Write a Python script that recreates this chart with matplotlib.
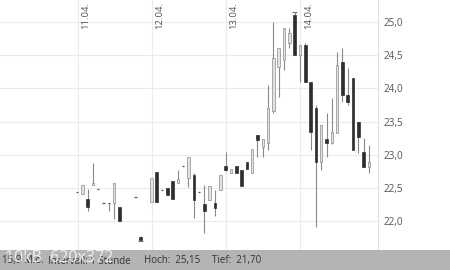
import numpy as np
import matplotlib
matplotlib.use("Agg")
import matplotlib.pyplot as plt

nan = np.nan

# Hourly candles, 14 per trading day (11.04. - 14.04.)
day_labels = ["11.04.", "12.04.", "13.04.", "14.04."]
candles_per_day = 14

opens = [
    22.45, 22.42, 22.34, 22.55, 22.49, 22.28, 22.28, 22.28, 22.22, nan, nan, 22.37, 21.77, nan,
    22.30, 22.75, 22.48, 22.51, 22.61, 22.58, 22.84, 22.66, 22.70, 22.45, 22.27, 22.33, 22.28, 22.48,
    22.84, 22.73, 22.84, 22.78, 22.90, 22.73, 23.30, 23.12, 23.18, 23.66, 24.32, 24.43, 24.68, 25.10,
    24.50, 24.65, 24.10, 23.71, 22.90, 23.24, 23.18, 23.33, 24.40, 23.90, 24.16, 23.50, 23.05, 22.82,
]
highs = [
    22.45, 22.55, 22.49, 22.88, 22.49, 22.28, 22.28, 22.58, 22.22, nan, nan, 22.37, 21.78, nan,
    22.66, 22.75, 22.48, 22.51, 22.61, 22.78, 22.84, 22.97, 22.73, 22.45, 22.55, 22.54, 22.48, 22.70,
    23.05, 22.79, 22.84, 22.78, 22.90, 23.09, 23.30, 23.24, 24.05, 25.00, 24.61, 24.91, 24.91, 25.15,
    24.65, 24.68, 24.10, 23.75, 23.45, 23.63, 23.86, 24.55, 24.61, 24.31, 24.16, 23.50, 23.26, 23.15,
]
lows = [
    22.45, 22.42, 22.16, 22.55, 22.49, 22.28, 22.16, 22.03, 22.00, nan, nan, 22.37, 21.70, nan,
    22.30, 22.30, 22.48, 22.40, 22.34, 22.58, 22.84, 22.52, 22.06, 22.45, 21.83, 22.33, 22.09, 22.48,
    22.76, 22.73, 22.73, 22.54, 22.79, 22.73, 22.97, 22.97, 23.08, 23.63, 23.87, 24.28, 24.61, 24.50,
    24.10, 24.10, 23.08, 21.92, 22.78, 22.97, 23.16, 23.33, 23.80, 23.75, 23.08, 23.03, 22.82, 22.73,
]
closes = [
    22.45, 22.55, 22.22, 22.58, 22.49, 22.28, 22.27, 22.58, 22.00, nan, nan, 22.37, 21.72, nan,
    22.66, 22.30, 22.48, 22.40, 22.34, 22.64, 22.84, 22.97, 22.33, 22.45, 22.16, 22.54, 22.21, 22.70,
    22.78, 22.79, 22.73, 22.54, 22.79, 23.09, 23.22, 23.24, 23.71, 24.46, 24.61, 24.91, 24.83, 24.50,
    24.65, 24.10, 23.35, 22.90, 23.45, 23.18, 23.35, 24.35, 23.90, 23.80, 23.08, 23.27, 22.82, 22.90,
]

price_ticks = [22.0, 22.5, 23.0, 23.5, 24.0, 24.5, 25.0]
high_value = 25.15
low_value = 21.70
footer_volume = "15,9 Mio."
footer_interval = "Intervall: 1 Stunde"

FONT = ["Open Sans", "DejaVu Sans"]

fig = plt.figure(figsize=(4.5, 2.7), dpi=100)
fig.patch.set_facecolor("white")
ax = fig.add_axes([0.0, 20 / 270, 378 / 450, 250 / 270])
ax.set_facecolor("white")

n = len(opens)
idx = np.arange(n)
o = np.array(opens); h = np.array(highs); l = np.array(lows); c = np.array(closes)

body_w = 0.48
wick_col = "#8a8a8a"
light_fill = "#e2e2e2"
light_edge = "#8c8c8c"
dark_fill = "#2e2e2e"

for i in idx:
    if np.isnan(o[i]):
        continue
    if h[i] > max(o[i], c[i]) or l[i] < min(o[i], c[i]):
        ax.vlines(i, l[i], h[i], color=wick_col, lw=0.8, zorder=2)
    if abs(c[i] - o[i]) < 0.015:
        ax.hlines(o[i], i - body_w / 2, i + body_w / 2, color="#555555", lw=0.9, zorder=3)
    elif c[i] > o[i]:
        ax.bar(i, c[i] - o[i], bottom=o[i], width=body_w, color=light_fill,
               edgecolor=light_edge, linewidth=0.5, zorder=3)
    else:
        ax.bar(i, o[i] - c[i], bottom=c[i], width=body_w, color=dark_fill,
               edgecolor=dark_fill, linewidth=0.5, zorder=3)

# high / low markers
hi_i = int(np.nanargmax(h)); lo_i = int(np.nanargmin(l))
ax.hlines(high_value, hi_i - 0.5, hi_i + 0.5, color="#777777", lw=0.8, zorder=4)
ax.hlines(low_value, lo_i - 0.5, lo_i + 0.5, color="#777777", lw=0.8, zorder=4)

ax.set_xlim(-14.5, 56.7)
ax.set_ylim(21.572, 25.326)

# grid
for t in price_ticks:
    ax.axhline(t, color="#ebebeb", lw=0.8, zorder=0)
for d in range(len(day_labels)):
    xpos = d * candles_per_day + 0.1
    ax.axvline(xpos, color="#ebebeb", lw=0.8, zorder=0)
    ax.text(xpos + 0.6, 25.29, day_labels[d], rotation=90, ha="left", va="top",
            fontsize=6.8, color="#555555", family=FONT, zorder=5)

ax.yaxis.tick_right()
ax.set_yticks(price_ticks)
ax.set_yticklabels([f"{t:.1f}".replace(".", ",") for t in price_ticks],
                   fontsize=7.2, color="#555555", family=FONT)
ax.tick_params(axis="y", length=0, pad=4)
ax.set_xticks([])
for side in ["top", "left", "bottom"]:
    ax.spines[side].set_visible(False)
ax.spines["right"].set_color("#e0e0e0")
ax.spines["right"].set_linewidth(0.8)

# footer bar
fig.patches.append(plt.Rectangle((0, 0), 1, 20 / 270, transform=fig.transFigure,
                                 facecolor="#b4b4b4", edgecolor="none", zorder=0))
fy = 9 / 270
fig.text(2 / 450, fy, footer_volume, fontsize=7, color="#333333", family=FONT, va="center")
fig.text(48 / 450, fy, footer_interval, fontsize=7, color="#333333", family=FONT, va="center")
fig.text(144 / 450, fy, "Hoch:  " + f"{high_value:.2f}".replace(".", ","), fontsize=7,
         color="#333333", family=FONT, va="center")
fig.text(212 / 450, fy, "Tief:  " + f"{low_value:.2f}".replace(".", ","), fontsize=7,
         color="#333333", family=FONT, va="center")

# thumbnail watermark (overlaps the footer, as in the reference image)
fig.text(5 / 450, 12 / 270, "10kB  620x372", fontsize=11.5, color="white", alpha=0.8,
         family=FONT, va="center", zorder=10)

fig.savefig("out.png", dpi=100)
